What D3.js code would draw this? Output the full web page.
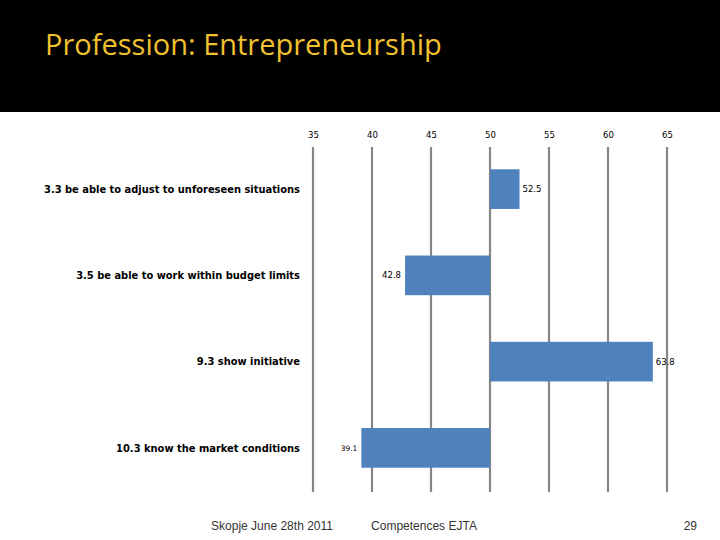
<!DOCTYPE html>
<html><head><meta charset="utf-8">
<script src="https://cdn.jsdelivr.net/npm/d3@7/dist/d3.min.js"></script>
<style>body{margin:0;background:#fff}svg{display:block}</style>
</head><body>
<script>
const categories = [
  "3.3 be able to adjust to unforeseen situations",
  "3.5 be able to work within budget limits",
  "9.3 show initiative",
  "10.3 know the market conditions"
];
const values = [52.5, 42.8, 63.8, 39.1];
const valueLabels = ["52.5", "42.8", "63.8", "39.1"];
const tickValues = [35, 40, 45, 50, 55, 60, 65];
const baseline = 50;
const title = "Profession: Entrepreneurship";
const footerLeft = "Skopje June 28th 2011";
const footerMid = "Competences EJTA";
const footerRight = "29";

const W = 720, H = 540;
const svg = d3.select("body").append("svg").attr("width", W).attr("height", H);

svg.append("rect").attr("x",0).attr("y",0).attr("width",W).attr("height",112).attr("fill","#000");
svg.append("text").attr("x",45).attr("y",55)
  .attr("font-family","'Open Sans', sans-serif").attr("font-size",29).attr("font-weight",500)
  .attr("fill","#F2C12E").text(title);

const x = d3.scaleLinear().domain([35,65]).range([313,667]);
const y = d3.scaleBand().domain(categories).range([146,491]).paddingInner(0.54).paddingOuter(0.27);

// gridlines
svg.append("g").selectAll("line").data(tickValues).join("line")
  .attr("x1",d=>x(d)).attr("x2",d=>x(d)).attr("y1",147).attr("y2",492)
  .attr("stroke","#868686").attr("stroke-width",2.2);

// top axis labels
const ax = svg.append("g").attr("transform","translate(0,138)")
  .call(d3.axisTop(x).tickValues(tickValues).tickSize(0).tickPadding(0));
ax.select(".domain").remove();
ax.selectAll("text").attr("font-family","'DejaVu Sans', sans-serif").attr("font-size",8.5).attr("fill","#000");

// bars
svg.append("g").selectAll("rect").data(values).join("rect")
  .attr("x",d=>x(Math.min(d,baseline)))
  .attr("width",d=>Math.abs(x(d)-x(baseline)))
  .attr("y",(d,i)=>y(categories[i]))
  .attr("height",y.bandwidth())
  .attr("fill","#4F81BD");

// value labels
svg.append("g").selectAll("text").data(values).join("text")
  .attr("x",d=> d>=baseline ? x(d)+3 : x(d)-4)
  .attr("y",(d,i)=>y(categories[i])+y.bandwidth()/2)
  .attr("dy","0.35em")
  .attr("text-anchor",d=> d>=baseline ? "start":"end")
  .attr("font-family","'DejaVu Sans', sans-serif")
  .attr("font-size",(d,i)=> i===3 ? 7.5 : 8.5)
  .attr("fill","#000")
  .text((d,i)=>valueLabels[i]);

// category labels
svg.append("g").selectAll("text").data(categories).join("text")
  .attr("x",300)
  .attr("y",d=>y(d)+y.bandwidth()/2)
  .attr("dy","0.35em")
  .attr("text-anchor","end")
  .attr("font-family","'DejaVu Sans Condensed', 'DejaVu Sans', sans-serif")
  .attr("font-weight","bold")
  .attr("font-size",11)
  .attr("fill","#000")
  .text(d=>d);

// footer
const ff = "'Liberation Sans', Arial, sans-serif";
svg.append("text").attr("x",272).attr("y",530).attr("text-anchor","middle")
  .attr("font-family",ff).attr("font-size",12).attr("fill","#333").text(footerLeft);
svg.append("text").attr("x",424).attr("y",530).attr("text-anchor","middle")
  .attr("font-family",ff).attr("font-size",12).attr("fill","#333").text(footerMid);
svg.append("text").attr("x",697).attr("y",530).attr("text-anchor","end")
  .attr("font-family",ff).attr("font-size",12).attr("fill","#333").text(footerRight);
</script>
</body></html>
